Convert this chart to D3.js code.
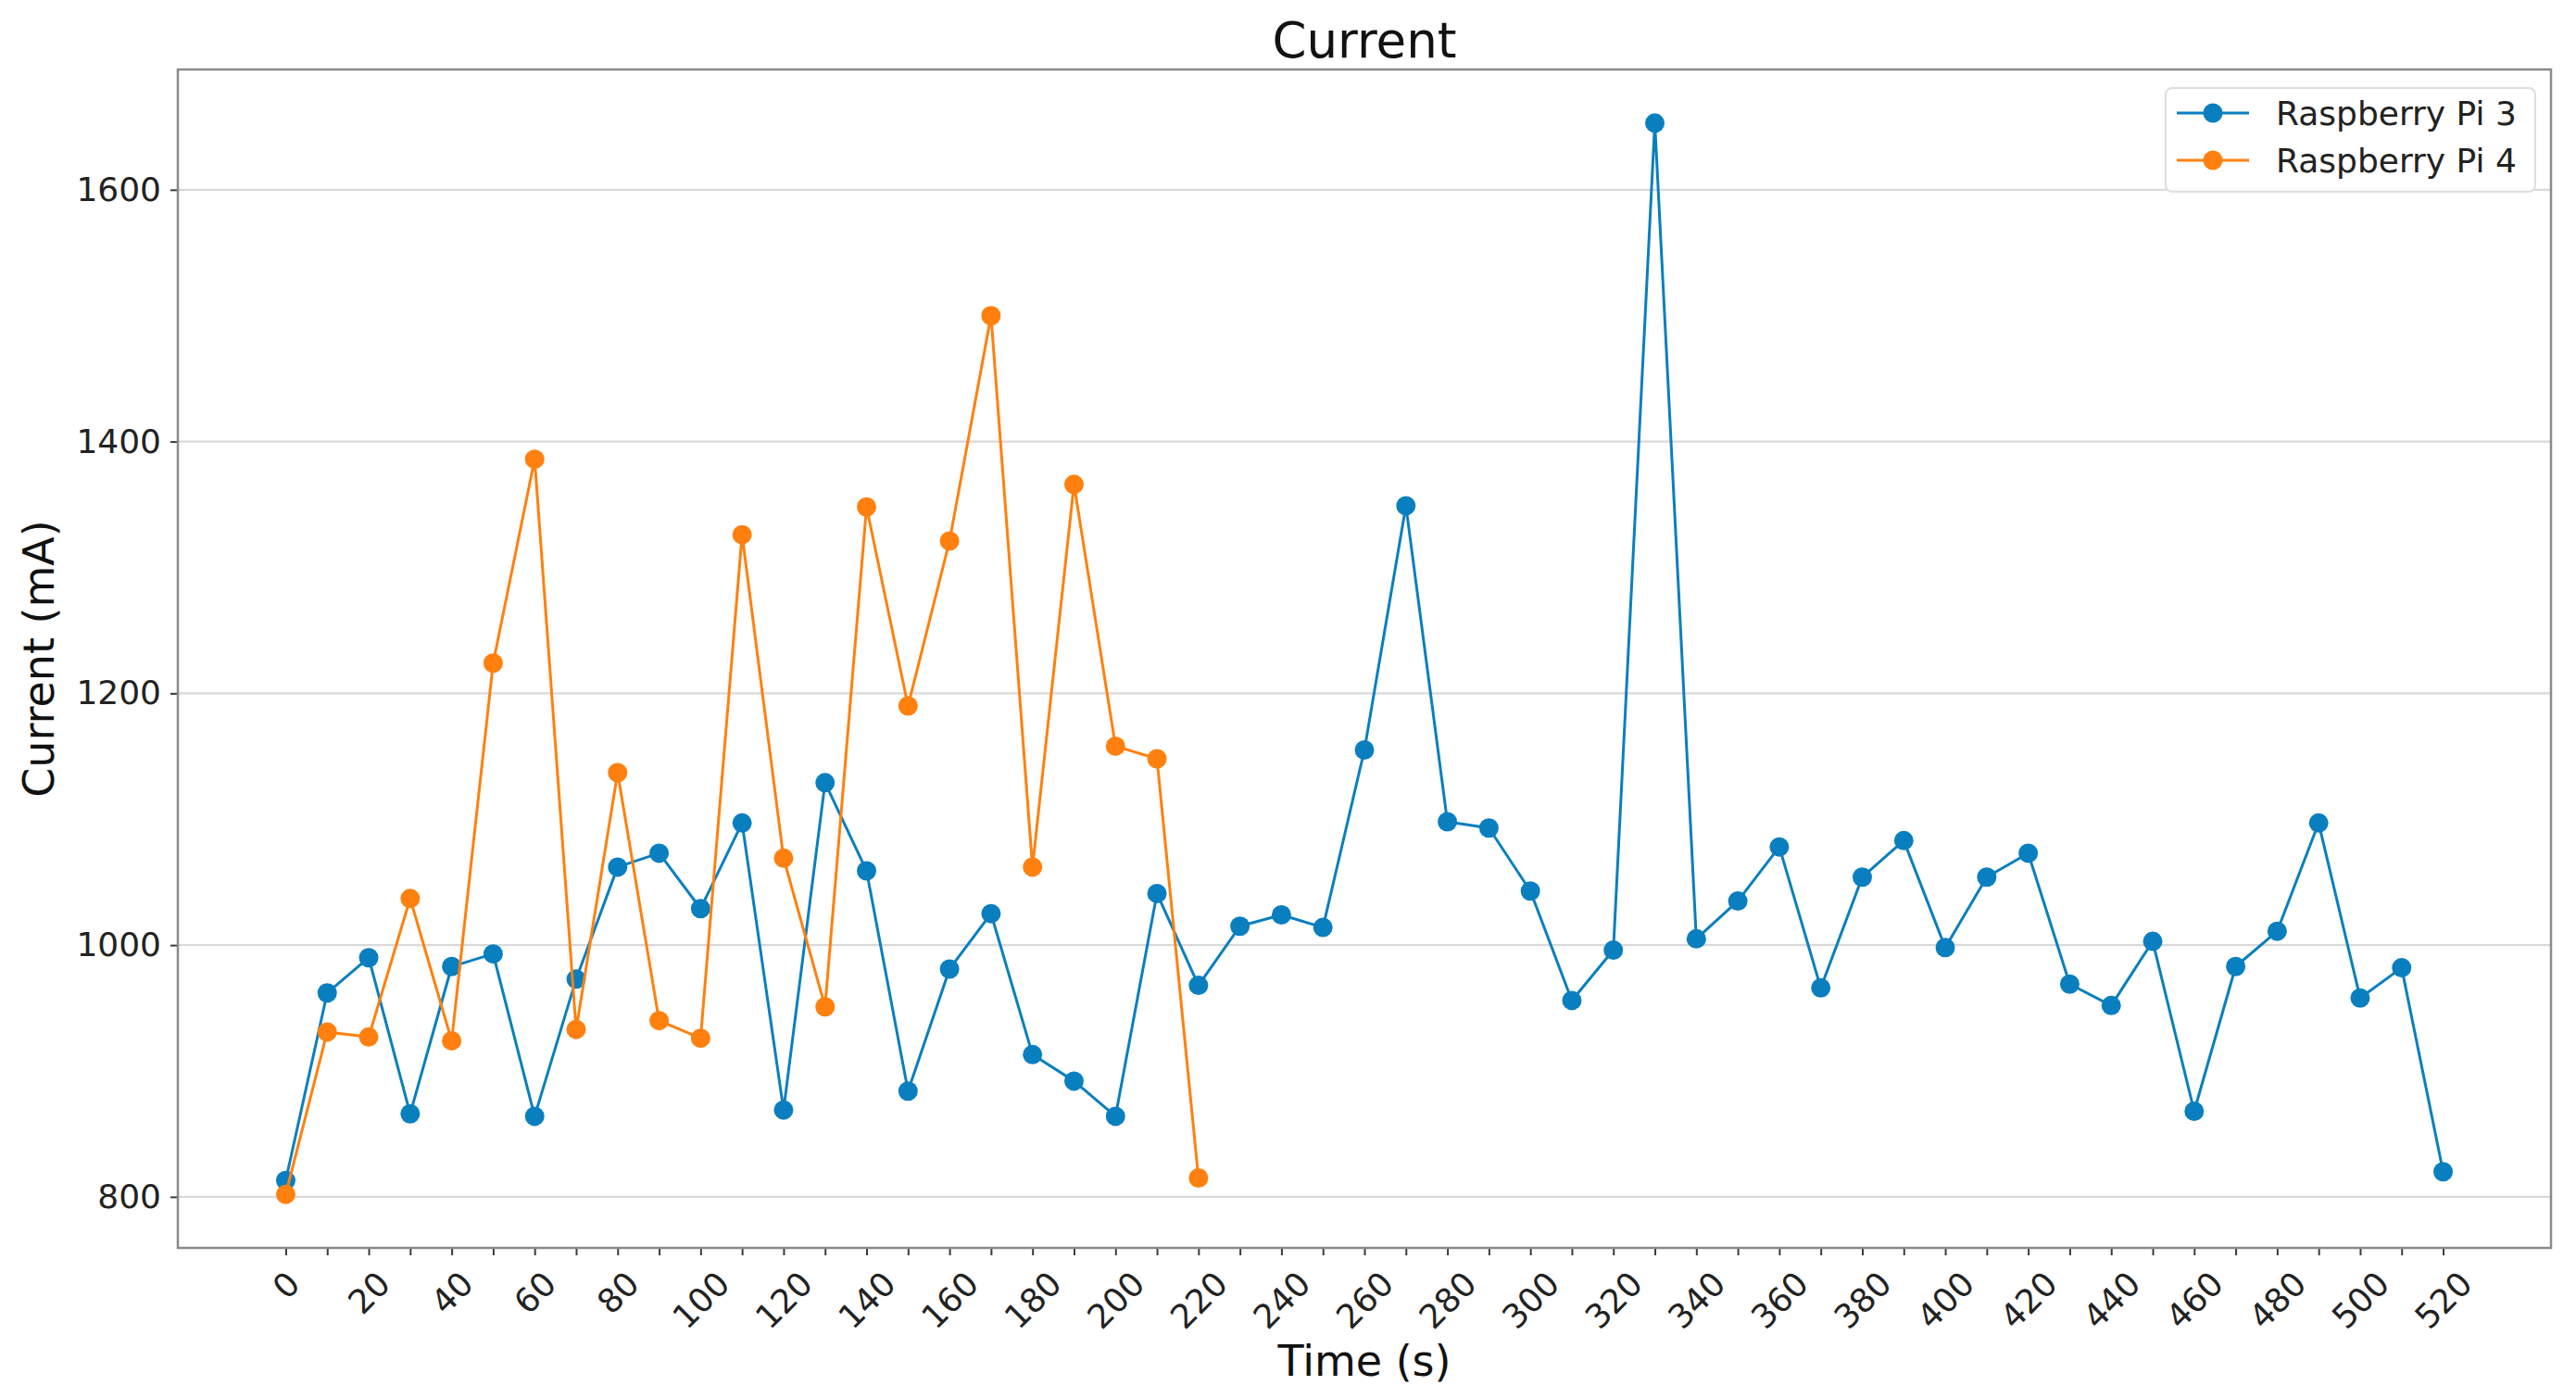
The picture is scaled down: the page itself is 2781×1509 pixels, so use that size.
<!DOCTYPE html>
<html>
<head>
<meta charset="utf-8">
<script src="https://cdn.jsdelivr.net/npm/d3@7"></script>
<style>
  html, body { margin: 0; padding: 0; background: #ffffff; }
  svg { display: block; font-family: "DejaVu Sans", sans-serif; }
</style>
</head>
<body>
<svg id="chart" width="2781" height="1509"></svg>
<script>
// ---- data ----
const timesPi3 = [0, 10, 20, 30, 40, 50, 60, 70, 80, 90, 100, 110, 120, 130, 140, 150, 160, 170, 180, 190,
  200, 210, 220, 230, 240, 250, 260, 270, 280, 290, 300, 310, 320, 330, 340, 350, 360, 370, 380, 390,
  400, 410, 420, 430, 440, 450, 460, 470, 480, 490, 500, 510, 520];
const currentPi3 = [813, 962, 990, 866, 983, 993, 864, 973, 1062, 1073, 1029, 1097, 869, 1129, 1059, 884, 981, 1025, 913, 892,
  864, 1041, 968, 1015, 1024, 1014, 1155, 1349, 1098, 1093, 1043, 956, 996, 1653, 1005, 1035, 1078, 966, 1054, 1083,
  998, 1054, 1073, 969, 952, 1003, 868, 983, 1011, 1097, 958, 982, 820];
const timesPi4 = [0, 10, 20, 30, 40, 50, 60, 70, 80, 90, 100, 110, 120, 130, 140, 150, 160, 170, 180, 190, 200, 210, 220];
const currentPi4 = [802, 931, 927, 1037, 924, 1224, 1386, 933, 1137, 940, 926, 1326, 1069, 951, 1348, 1190, 1321, 1500, 1062, 1366, 1158, 1148, 815];
const seriesNames = ["Raspberry Pi 3", "Raspberry Pi 4"];
const seriesColors = ["#0a7fbf", "#ff800e"];
const yTickValues = [800, 1000, 1200, 1400, 1600];
const titleText = "Current";
const xLabelText = "Time (s)";
const yLabelText = "Current (mA)";

// ---- layout ----
const W = 2781, H = 1509;
const plot = { left: 192, right: 2754, top: 75, bottom: 1347 };

const svg = d3.select("#chart");

const series = [
  { name: seriesNames[0], color: seriesColors[0], pts: timesPi3.map((t, i) => ({ t, v: currentPi3[i] })) },
  { name: seriesNames[1], color: seriesColors[1], pts: timesPi4.map((t, i) => ({ t, v: currentPi4[i] })) }
];

function padded(ext) { const p = (ext[1] - ext[0]) * 0.05; return [ext[0] - p, ext[1] + p]; }
const allT = timesPi3.concat(timesPi4);
const allV = currentPi3.concat(currentPi4);

const x = d3.scaleLinear().domain(padded(d3.extent(allT))).range([plot.left, plot.right]);
const y = d3.scaleLinear().domain(padded(d3.extent(allV))).range([plot.bottom, plot.top]);

// background
svg.append("rect").attr("x", 0).attr("y", 0).attr("width", W).attr("height", H).attr("fill", "#ffffff");

// grid
svg.append("g").selectAll("line").data(yTickValues).join("line")
  .attr("x1", plot.left).attr("x2", plot.right)
  .attr("y1", d => y(d)).attr("y2", d => y(d))
  .attr("stroke", "#d9d9d9").attr("stroke-width", 2.2);

// axes
const xAxis = d3.axisBottom(x).tickValues(timesPi3).tickSize(8).tickFormat(d => (d % 20 === 0 ? String(d) : ""));
const gx = svg.append("g").attr("transform", `translate(0,${plot.bottom})`).call(xAxis);
gx.select(".domain").remove();
gx.selectAll(".tick line").attr("stroke", "#3a3a3a").attr("stroke-width", 2);
gx.selectAll(".tick text")
  .attr("fill", "#222").attr("font-size", 36).attr("font-family", "DejaVu Sans, sans-serif")
  .attr("y", null).attr("dy", null)
  .attr("text-anchor", "middle").attr("dominant-baseline", "central")
  .each(function () {
    const w = this.getComputedTextLength();
    const off = 8 + 10 + (w + 40) * 0.3536;
    d3.select(this).attr("transform", `translate(0,${off}) rotate(-45)`);
  });

const yAxis = d3.axisLeft(y).tickValues(yTickValues).tickSize(8).tickPadding(10).tickFormat(d3.format("d"));
const gy = svg.append("g").attr("transform", `translate(${plot.left},0)`).call(yAxis);
gy.select(".domain").remove();
gy.selectAll(".tick line").attr("stroke", "#3a3a3a").attr("stroke-width", 2);
gy.selectAll(".tick text").attr("fill", "#222").attr("font-size", 36).attr("font-family", "DejaVu Sans, sans-serif");

// frame
svg.append("rect")
  .attr("x", plot.left).attr("y", plot.top)
  .attr("width", plot.right - plot.left).attr("height", plot.bottom - plot.top)
  .attr("fill", "none").attr("stroke", "#8a8a8a").attr("stroke-width", 2.5);

// series
const line = d3.line().x(d => x(d.t)).y(d => y(d.v));
series.forEach(s => {
  const g = svg.append("g");
  g.append("path").datum(s.pts).attr("d", line)
    .attr("fill", "none").attr("stroke", s.color).attr("stroke-width", 3).attr("stroke-linejoin", "round");
  g.selectAll("circle").data(s.pts).join("circle")
    .attr("cx", d => x(d.t)).attr("cy", d => y(d.v)).attr("r", 10.5).attr("fill", s.color);
});

// title & labels
svg.append("text").attr("x", (plot.left + plot.right) / 2).attr("y", 62)
  .attr("text-anchor", "middle").attr("font-size", 53).attr("fill", "#111").text(titleText);
svg.append("text").attr("x", (plot.left + plot.right) / 2).attr("y", 1485)
  .attr("text-anchor", "middle").attr("font-size", 46).attr("fill", "#111").text(xLabelText);
svg.append("text").attr("transform", `translate(58,${(plot.top + plot.bottom) / 2}) rotate(-90)`)
  .attr("text-anchor", "middle").attr("font-size", 46).attr("fill", "#111").text(yLabelText);

// legend
const leg = svg.append("g");
leg.append("rect").attr("x", 2338).attr("y", 95).attr("width", 399).attr("height", 112)
  .attr("rx", 7).attr("fill", "#ffffff").attr("fill-opacity", 0.8)
  .attr("stroke", "#dedede").attr("stroke-width", 2);
series.forEach((s, i) => {
  const ly = 122 + i * 51;
  leg.append("line").attr("x1", 2350).attr("x2", 2428).attr("y1", ly).attr("y2", ly)
    .attr("stroke", s.color).attr("stroke-width", 3);
  leg.append("circle").attr("cx", 2389).attr("cy", ly).attr("r", 10.5).attr("fill", s.color);
  leg.append("text").attr("x", 2457).attr("y", ly).attr("dy", "0.35em")
    .attr("font-size", 36).attr("fill", "#222").text(s.name);
});
</script>
</body>
</html>
